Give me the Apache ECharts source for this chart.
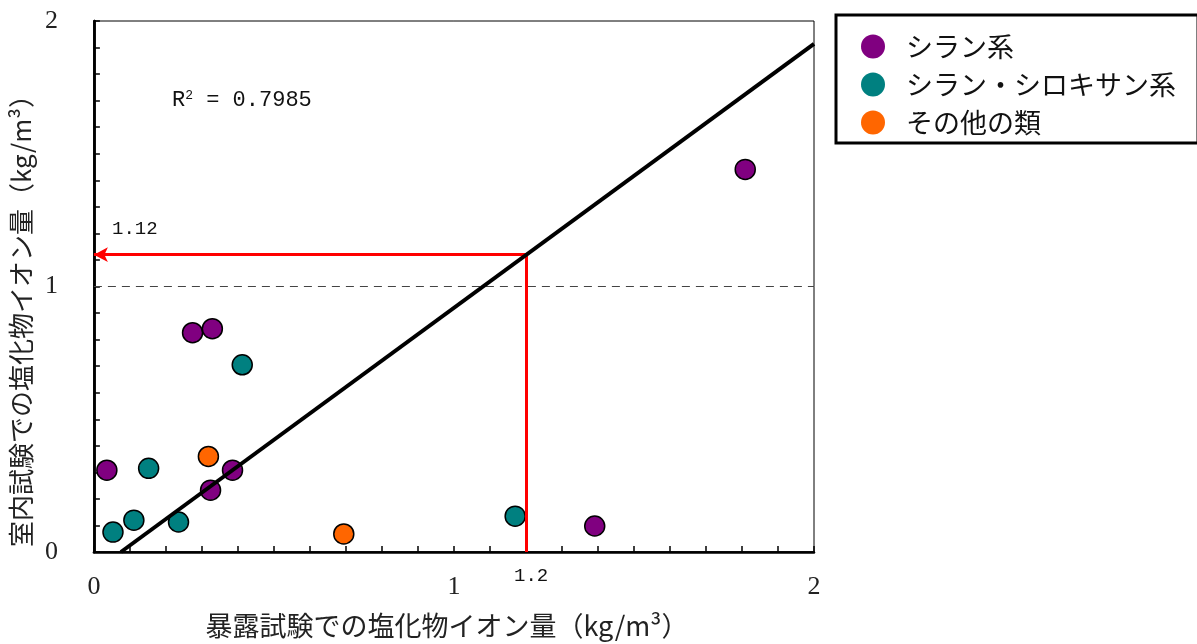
<!DOCTYPE html>
<html>
<head>
<meta charset="utf-8">
<script src="https://cdn.jsdelivr.net/npm/echarts@6/dist/echarts.min.js"></script>
<style>html,body{margin:0;padding:0;background:#fff}#c{width:1197px;height:644px}</style>
</head>
<body>
<div id="c"></div>
<script>
// ---- data ----
const seriesNames = ['シラン系', 'シラン・シロキサン系', 'その他の類'];
const silane = [[0.036,0.308],[0.274,0.826],[0.329,0.841],[0.324,0.233],[0.385,0.308],[1.391,0.098],[1.809,1.441]];
const siloxane = [[0.053,0.075],[0.111,0.120],[0.152,0.315],[0.235,0.113],[0.412,0.705],[1.170,0.135]];
const others = [[0.318,0.360],[0.694,0.068]];
const fitLine = [[0.075,0],[2.0,1.914]];
const readX = 1.2, readY = 1.12;
const refY = 1;
const axisLabels = ['0','1','2'];
const xName = '暴露試験での塩化物イオン量（kg/m³）';
const yName = '室内試験での塩化物イオン量（kg/m³）';
const r2Text = '0.7985';

const serif = "'Liberation Serif','Noto Sans CJK JP',serif";
const mono = "'Liberation Mono','Noto Sans CJK JP',monospace";
const jp = "'Noto Sans CJK JP','Liberation Serif',sans-serif";

function lab(v){
  if (Math.abs(v - Math.round(v)) < 1e-6) { const s = String(Math.round(v)); return axisLabels.includes(s) ? s : ''; }
  return '';
}

const chart = echarts.init(document.getElementById('c'), null, {renderer:'canvas'});
const pointStyle = c => ({color:c, borderColor:'#000', borderWidth:1.5, opacity:1});
chart.setOption({
  animation:false,
  backgroundColor:'#fff',
  grid:{left:91, top:21, right:383, bottom:90, show:true, borderColor:'#000', borderWidth:1},
  legend:{
    left:856, top:28, orient:'vertical', itemWidth:24, itemHeight:24, itemGap:11,
    icon:'circle',
    itemStyle:{borderWidth:0, opacity:1},
    textStyle:{fontFamily:jp, fontSize:27, color:'#111', padding:[0,0,0,16]},
    data:seriesNames
  },
  xAxis:[{
    type:'value', min:0, max:2, interval:0.1,
    name:xName, nameLocation:'middle', nameGap:60,
    nameTextStyle:{fontFamily:jp, fontSize:27, color:'#222', padding:[0,14,0,0]},
    axisLine:{lineStyle:{color:'#000', width:2.5}},
    axisTick:{inside:true, length:6, lineStyle:{color:'#000', width:1.5}},
    axisLabel:{formatter:lab, margin:22, fontFamily:serif, fontSize:26, color:'#222', showMinLabel:true, showMaxLabel:true},
    splitLine:{show:false}
  },{
    type:'value', position:'top', min:0, max:2,
    axisLine:{show:true, lineStyle:{color:'#000', width:1.5}},
    axisTick:{show:false}, axisLabel:{show:false}, splitLine:{show:false}
  }],
  yAxis:[{
    type:'value', min:0, max:2, interval:0.1,
    name:yName, nameLocation:'middle', nameGap:58,
    nameTextStyle:{fontFamily:jp, fontSize:26, color:'#222', padding:[0,56,0,0]},
    axisLine:{lineStyle:{color:'#000', width:2.5}},
    axisTick:{inside:true, length:6, lineStyle:{color:'#000', width:1.5}},
    axisLabel:{formatter:lab, margin:36, fontFamily:serif, fontSize:26, color:'#222'},
    splitLine:{show:false}
  },{
    type:'value', position:'right', min:0, max:2,
    axisLine:{show:true, lineStyle:{color:'#000', width:2.5}},
    axisTick:{show:false}, axisLabel:{show:false}, splitLine:{show:false}
  }],
  series:[
    {name:seriesNames[0], type:'scatter', data:silane, symbolSize:20, itemStyle:pointStyle('#800080'), z:3},
    {name:seriesNames[1], type:'scatter', data:siloxane, symbolSize:20, itemStyle:pointStyle('#008080'), z:3},
    {name:seriesNames[2], type:'scatter', data:others, symbolSize:20, itemStyle:pointStyle('#FF6600'), z:3},
    {name:'fit', type:'line', data:fitLine, showSymbol:false, symbol:'none', lineStyle:{color:'#000', width:4}, z:5, silent:true,
     markLine:{
       silent:true, animation:false, label:{show:false},
       data:[
         [{coord:[0,refY], symbol:'none', lineStyle:{color:'#444', width:1, type:[8,6]}}, {coord:[2,refY], symbol:'none'}],
         [{coord:[readX,0], symbol:'none', lineStyle:{color:'#ff0000', width:3, type:'solid'}}, {coord:[readX,readY], symbol:'none'}],
         [{coord:[readX,readY], symbol:'none', lineStyle:{color:'#ff0000', width:3, type:'solid'}}, {coord:[0,readY], symbol:'arrow', symbolSize:[11,14]}]
       ]
     }}
  ],
  graphic:[
    {type:'text', left:172, top:89, style:{
      text:'R{sup|2} = ' + r2Text, font:'22px ' + mono, fill:'#111',
      rich:{sup:{fontSize:13, fontFamily:mono, verticalAlign:'top', padding:[0,0,10,0]}}
    }},
    {type:'text', left:112, top:219, style:{text:String(readY), font:'19px ' + mono, fill:'#111'}},
    {type:'text', left:514, top:566, style:{text:String(readX), font:'19px ' + mono, fill:'#111'}},
    {type:'rect', shape:{x:836, y:15, width:362, height:128}, style:{fill:'none', stroke:'#000', lineWidth:3}, z:-1}
  ]
});
</script>
</body>
</html>
